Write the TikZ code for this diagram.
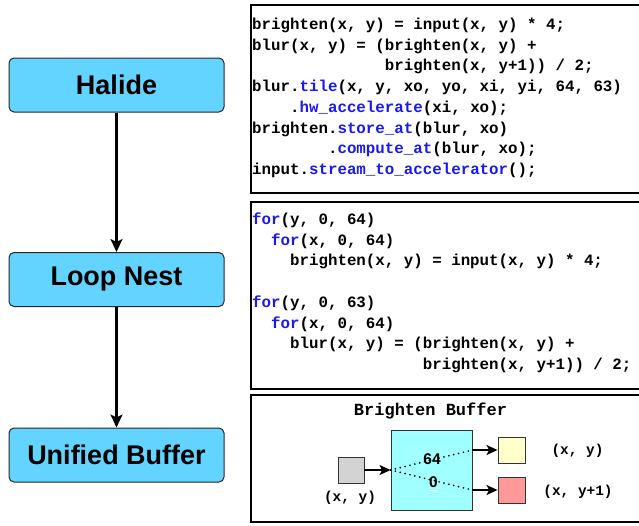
\documentclass[tikz,border=0pt]{standalone}
\usepackage{fontspec}
\usetikzlibrary{arrows.meta}
\newfontfamily\labelfont{Liberation Sans}
\newfontfamily\codefont{Liberation Mono}
\definecolor{boxblue}{RGB}{98,212,255}
\definecolor{kw}{RGB}{25,25,240}
\definecolor{bufcyan}{RGB}{160,255,255}
\definecolor{bufyellow}{RGB}{255,255,204}
\definecolor{bufred}{RGB}{255,153,153}
\definecolor{bufgray}{RGB}{211,211,211}
\newcommand{\kwd}[1]{\textcolor{kw}{#1}}
\tikzset{
  stage/.style={draw=black!85, line width=1pt, fill=boxblue, rounded corners=5pt,
    minimum width=215pt, minimum height=54pt, inner sep=0pt,
    font=\labelfont\bfseries\fontsize{27}{30}\selectfont},
  bigarrow/.style={line width=2.4pt, -{Stealth[length=13pt,width=12pt,inset=3pt]}},
  panel/.style={draw=black, line width=1.3pt},
  codeline/.style={anchor=base west, inner sep=0pt, font=\codefont\bfseries\fontsize{15.8}{20}\selectfont},
  buflabel/.style={inner sep=0pt, font=\codefont\bfseries\fontsize{14.4}{16}\selectfont},
  cell/.style={draw=black!80, line width=0.9pt, inner sep=0pt},
  smallarrow/.style={line width=1.5pt, -{Stealth[length=11pt,width=10pt,inset=2.5pt]}},
  dots/.style={line width=1.9pt, line cap=round, dash pattern=on 0pt off 5pt},
  numlabel/.style={inner sep=0pt, font=\labelfont\bfseries\fontsize{15.5}{17}\selectfont}
}
\begin{document}
\begin{tikzpicture}[x=1pt,y=-1pt]
\path[use as bounding box, clip] (0,0) rectangle (639,525);
% left flow
\node[stage] (halide) at (116.5,85) {Halide};
\node[stage] (loop) at (116.5,279.5) {Loop Nest};
\node[stage] (ub) at (116.5,455) {Unified Buffer};
\draw[bigarrow] (halide.south) -- (loop.north);
\draw[bigarrow] (loop.south) -- (ub.north);
% panels
\draw[panel] (251,5) rectangle (650,193);
\draw[panel] (251,202) rectangle (650,389);
\draw[panel] (251,395) rectangle (650,522);
% panel 1 code
\node[codeline] (a1) at (252,29.5) {brighten(x, y) = input(x, y) * 4;};
\node[codeline] (a2) at (252,50.2) {blur(x, y) = (brighten(x, y) +};
\node[codeline] (a3) at (252+14*9.48,70.9) {brighten(x, y+1)) / 2;};
\node[codeline] (a4) at (252,91.6) {blur.\kwd{tile}(x, y, xo, yo, xi, yi, 64, 63)};
\node[codeline] (a5) at (252+4*9.48,112.3) {.\kwd{hw\_accelerate}(xi, xo);};
\node[codeline] (a6) at (252,133) {brighten.\kwd{store\_at}(blur, xo)};
\node[codeline] (a7) at (252+8*9.48,153.7) {.\kwd{compute\_at}(blur, xo);};
\node[codeline] (a8) at (252,174.4) {input.\kwd{stream\_to\_accelerator}();};
% panel 2 code
\node[codeline] (b1) at (252,224.5) {\kwd{for}(y, 0, 64)};
\node[codeline] (b2) at (252+2*9.48,245.2) {\kwd{for}(x, 0, 64)};
\node[codeline] (b3) at (252+4*9.48,265.9) {brighten(x, y) = input(x, y) * 4;};
\node[codeline] (b4) at (252,307.3) {\kwd{for}(y, 0, 63)};
\node[codeline] (b5) at (252+2*9.48,328) {\kwd{for}(x, 0, 64)};
\node[codeline] (b6) at (252+4*9.48,348.7) {blur(x, y) = (brighten(x, y) +};
\node[codeline] (b7) at (252+18*9.48,369.4) {brighten(x, y+1)) / 2;};
% panel 3 buffer
\node[inner sep=0pt, font=\codefont\bfseries\fontsize{17}{19}\selectfont] (title) at (430.5,411) {Brighten Buffer};
\node[cell, fill=bufgray, minimum width=26pt, minimum height=26pt] (in) at (351,470) {};
\node[cell, fill=bufcyan, minimum width=81pt, minimum height=80pt] (buf) at (431.5,470) {};
\node[cell, fill=bufyellow, minimum width=27pt, minimum height=26pt] (outa) at (511.5,450) {};
\node[cell, fill=bufred, minimum width=27pt, minimum height=26pt] (outb) at (511.5,490) {};
\coordinate (ta) at (buf.east |- outa.west);
\coordinate (tb) at (buf.east |- outb.west);
\draw[smallarrow] (in.east) -- (buf.west);
\draw[dots] (buf.west) -- (ta);
\draw[dots] (buf.west) -- (tb);
\draw[smallarrow] (ta) -- (outa.west);
\draw[smallarrow] (tb) -- (outb.west);
\node[numlabel] (n64) at (432,459.5) {64};
\node[numlabel] (n0) at (433.5,482) {0};
\draw[white, line width=1pt] (429,490.5) -- (438,490.5);
\node[buflabel] (la) at (577.5,451) {(x, y)};
\node[buflabel] (lb) at (578,492) {(x, y+1)};
\node[buflabel] (lc) at (350,498) {(x, y)};
\end{tikzpicture}
\end{document}
